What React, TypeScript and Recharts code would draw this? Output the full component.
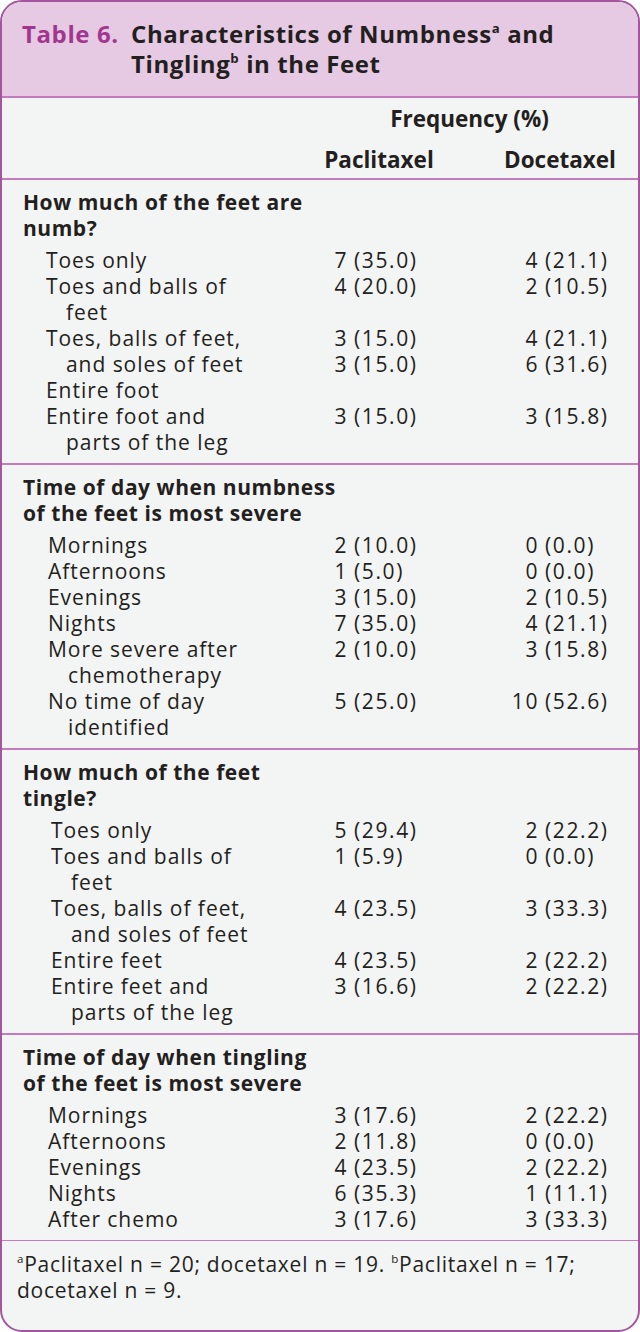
import React from 'react'
import { ScatterChart, Scatter, XAxis, YAxis, ReferenceLine } from 'recharts'

const SECTION_TITLES = [
  ['How much of the feet are', 'numb?'],
  ['Time of day when numbness', 'of the feet is most severe'],
  ['How much of the feet', 'tingle?'],
  ['Time of day when tingling', 'of the feet is most severe'],
]

// one entry per printed line; a leading "  " marks a wrapped continuation line
const NUMB_AREA = ['Toes only', 'Toes and balls of', '  feet', 'Toes, balls of feet,', '  and soles of feet', 'Entire foot', 'Entire foot and', '  parts of the leg']
const NUMB_AREA_PAC = [[7, 35.0], [4, 20.0], null, [3, 15.0], [3, 15.0], null, [3, 15.0], null]
const NUMB_AREA_DOC = [[4, 21.1], [2, 10.5], null, [4, 21.1], [6, 31.6], null, [3, 15.8], null]

const NUMB_TIME = ['Mornings', 'Afternoons', 'Evenings', 'Nights', 'More severe after', '  chemotherapy', 'No time of day', '  identified']
const NUMB_TIME_PAC = [[2, 10.0], [1, 5.0], [3, 15.0], [7, 35.0], [2, 10.0], null, [5, 25.0], null]
const NUMB_TIME_DOC = [[0, 0.0], [0, 0.0], [2, 10.5], [4, 21.1], [3, 15.8], null, [10, 52.6], null]

const TINGLE_AREA = ['Toes only', 'Toes and balls of', '  feet', 'Toes, balls of feet,', '  and soles of feet', 'Entire feet', 'Entire feet and', '  parts of the leg']
const TINGLE_AREA_PAC = [[5, 29.4], [1, 5.9], null, [4, 23.5], null, [4, 23.5], [3, 16.6], null]
const TINGLE_AREA_DOC = [[2, 22.2], [0, 0.0], null, [3, 33.3], null, [2, 22.2], [2, 22.2], null]

const TINGLE_TIME = ['Mornings', 'Afternoons', 'Evenings', 'Nights', 'After chemo']
const TINGLE_TIME_PAC = [[3, 17.6], [2, 11.8], [4, 23.5], [6, 35.3], [3, 17.6]]
const TINGLE_TIME_DOC = [[2, 22.2], [0, 0.0], [2, 22.2], [1, 11.1], [3, 33.3]]

const COLUMN_TICKS = [1, 1.5, 2]
const COLUMN_HEADERS = ['Paclitaxel', 'Frequency (%)', 'Docetaxel']

const SECTIONS = [
  { lines: NUMB_AREA, pac: NUMB_AREA_PAC, doc: NUMB_AREA_DOC },
  { lines: NUMB_TIME, pac: NUMB_TIME_PAC, doc: NUMB_TIME_DOC },
  { lines: TINGLE_AREA, pac: TINGLE_AREA_PAC, doc: TINGLE_AREA_DOC },
  { lines: TINGLE_TIME, pac: TINGLE_TIME_PAC, doc: TINGLE_TIME_DOC },
]

// layout of rows (in px below the first rule)
const HEAD_TOP = 24
const LINE = 26
const HEAD_GAP = 32
const SECTION_END = 21
const ITEM_INDENT = [23, 25, 28, 25]

const PURPLE = '#a3559e'
const RULE = '#c47bbd'
const INK = '#231f20'
const FONT = '"Open Sans", sans-serif'
const BODY_SIZE = 21

type Line = { y: number; text: string; kind: 'head' | 'item' | 'cont'; section: number }
const rows: Line[] = []
const pacPoints: any[] = []
const docPoints: any[] = []
const rules: number[] = [0]
let cursor = 0
SECTIONS.forEach((sec, s) => {
  const h = cursor + HEAD_TOP
  rows.push({ y: h, text: SECTION_TITLES[s][0], kind: 'head', section: s })
  rows.push({ y: h + LINE, text: SECTION_TITLES[s][1], kind: 'head', section: s })
  let y = h + LINE + HEAD_GAP
  sec.lines.forEach((t, i) => {
    const cont = t.startsWith('  ')
    rows.push({ y, text: t.trim(), kind: cont ? 'cont' : 'item', section: s })
    if (sec.pac[i]) pacPoints.push({ x: 1, y, n: sec.pac[i]![0], pct: sec.pac[i]![1] })
    if (sec.doc[i]) docPoints.push({ x: 2, y, n: sec.doc[i]![0], pct: sec.doc[i]![1] })
    if (i < sec.lines.length - 1) y += LINE
  })
  cursor = y + SECTION_END
  rules.push(cursor)
})
const TOTAL = cursor
const rowByY = new Map(rows.map((r) => [r.y, r]))

function RowLabel(props: any) {
  const { y, payload } = props
  const r = rowByY.get(payload.value)
  if (!r) return null
  const isHead = r.kind === 'head'
  const x = isHead ? 21 : 21 + ITEM_INDENT[r.section] + (r.kind === 'cont' ? 20 : 0)
  return (
    <text x={x} y={y} dy="0.35em" textAnchor="start" fontFamily={FONT} fontSize={BODY_SIZE}
      letterSpacing={isHead ? 0.55 : 0.95} fontWeight={isHead ? 700 : 400} fill={INK}>
      {r.text}
    </text>
  )
}

const HEADER_DX = [31, 26, 21]
const HEADER_DY = [-19, -60, -19]

function ColumnHeader(props: any) {
  const { x, y, payload } = props
  const i = COLUMN_TICKS.indexOf(payload.value)
  if (i < 0) return null
  return (
    <text x={x + HEADER_DX[i]} y={y + HEADER_DY[i]} dy="0.35em" textAnchor="middle" fontFamily={FONT}
      fontSize={22.5} fontWeight={700} fill={INK}>
      {COLUMN_HEADERS[i]}
    </text>
  )
}

function CellText(props: any) {
  const { cx, cy, payload } = props
  return (
    <g>
      <text x={cx} y={cy} dy="0.35em" textAnchor="end" fontFamily={FONT} fontSize={BODY_SIZE} letterSpacing={1.6} fill={INK}>
        {payload.n}
      </text>
      <text x={cx + 6} y={cy} dy="0.35em" textAnchor="start" fontFamily={FONT} fontSize={BODY_SIZE} letterSpacing={1.6} fill={INK}>
        ({payload.pct.toFixed(1)})
      </text>
    </g>
  )
}

const supStyle: React.CSSProperties = { fontSize: '0.55em', position: 'relative', top: '-0.75em', verticalAlign: 'baseline', lineHeight: 0 }

export default function App() {
  return (
    <>
      <style>{'body{margin:0}'}</style>
      <div style={{ position: 'relative', width: 640, height: 1332, boxSizing: 'border-box', border: `2px solid ${PURPLE}`,
        borderRadius: 22, overflow: 'hidden', background: '#f3f4f4', fontFamily: FONT, color: INK }}>
        <div style={{ position: 'absolute', left: 0, top: 0, right: 0, height: 94, background: '#e6c9e3',
          borderBottom: `2px solid ${RULE}` }} />
        <div style={{ position: 'absolute', left: 20, top: 17, display: 'flex', fontSize: 24, letterSpacing: 0.6,
          fontWeight: 700, lineHeight: '30px' }}>
          <span style={{ width: 109, color: '#a2368f' }}>Table 6.</span>
          <div>
            <div>Characteristics of Numbness<span style={supStyle}>a</span> and</div>
            <div>Tingling<span style={supStyle}>b</span> in the Feet</div>
          </div>
        </div>
        <div style={{ position: 'absolute', left: 0, top: 96 }}>
          <ScatterChart width={636} height={81 + TOTAL} margin={{ top: 0, right: 3.5, bottom: 0, left: 0 }}>
            <XAxis dataKey="x" type="number" orientation="top" domain={[0, 2.5]} ticks={COLUMN_TICKS} interval={0}
              height={81} axisLine={false} tickLine={false} tickSize={0} tickMargin={0} tick={<ColumnHeader />} />
            <YAxis dataKey="y" type="number" reversed domain={[0, TOTAL]} ticks={rows.map((r) => r.y)} interval={0}
              width={155} axisLine={false} tickLine={false} tickSize={0} tickMargin={0} tick={<RowLabel />} />
            {rules.map((r) => (
              <ReferenceLine key={r} segment={[{ x: -1, y: r }, { x: 3, y: r }]} ifOverflow="visible"
                stroke={RULE} strokeWidth={2} />
            ))}
            <Scatter name="Paclitaxel" data={pacPoints} shape={<CellText />} isAnimationActive={false} />
            <Scatter name="Docetaxel" data={docPoints} shape={<CellText />} isAnimationActive={false} />
          </ScatterChart>
        </div>
        <div style={{ position: 'absolute', left: 15, top: 1249, fontSize: 21, letterSpacing: 0.75, lineHeight: '26px', width: 615 }}>
          <span style={supStyle}>a</span>Paclitaxel n = 20; docetaxel n = 19.{' '}
          <span style={supStyle}>b</span>Paclitaxel n = 17;<br />docetaxel n = 9.
        </div>
      </div>
    </>
  )
}
